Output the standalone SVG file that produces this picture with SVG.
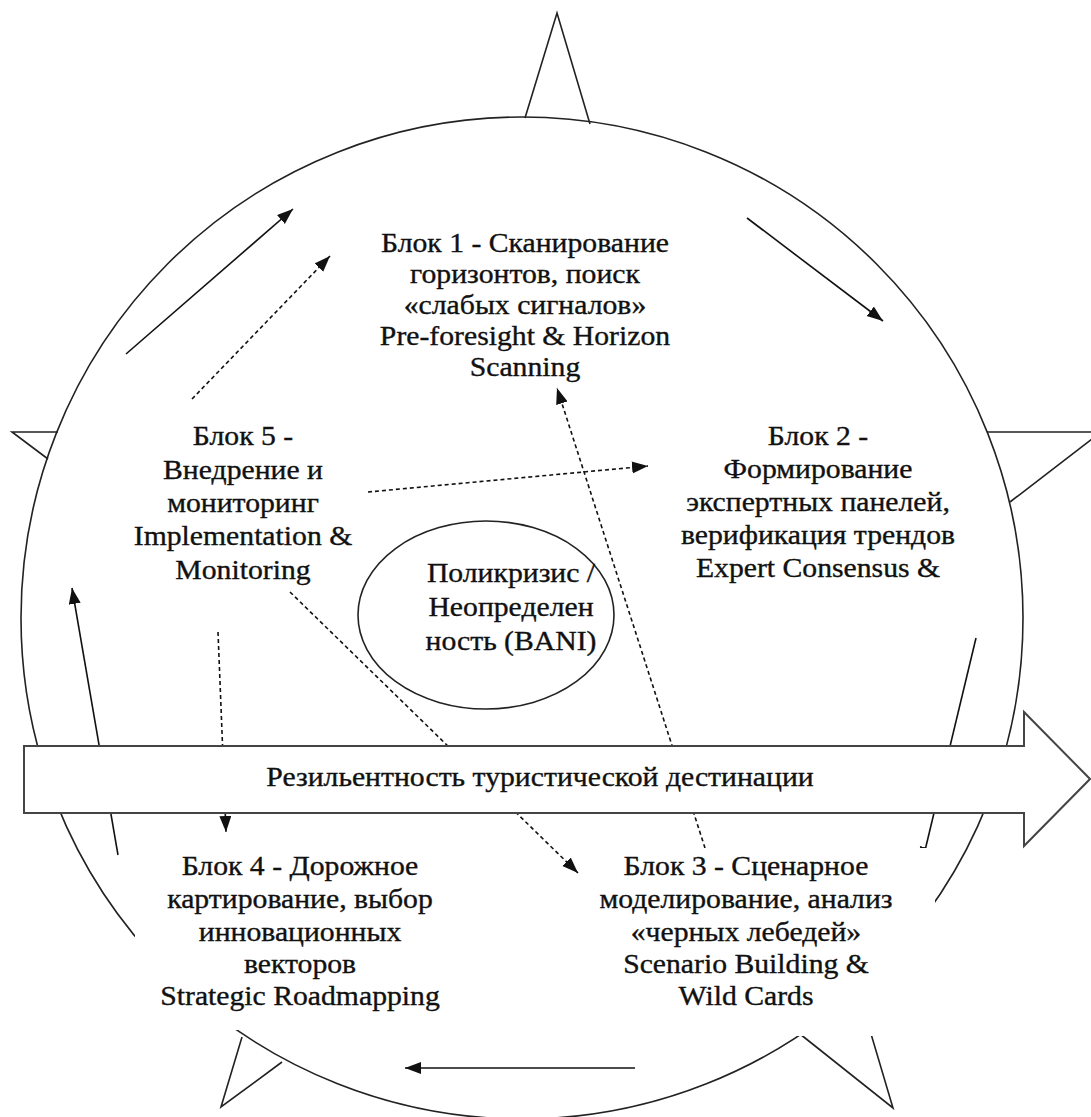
<svg xmlns="http://www.w3.org/2000/svg" width="1091" height="1117" viewBox="0 0 1091 1117">
<style>
.outline{fill:none;stroke:#222;stroke-width:1.6}
.spike{fill:none;stroke:#222;stroke-width:1.6;stroke-linejoin:miter}
.solid{fill:none;stroke:#111;stroke-width:1.6;marker-end:url(#ah)}
.dash{fill:none;stroke:#111;stroke-width:1.6;stroke-dasharray:4 3;marker-end:url(#ah)}
.box{fill:#fff;stroke:none}
text{font-family:'Liberation Serif','Times New Roman',serif;font-size:27px;fill:#111;stroke:#111;stroke-width:0.35;text-anchor:middle}
.big{fill:#fff;stroke:#444;stroke-width:2}
</style>
<defs>
<marker id="ah" markerUnits="userSpaceOnUse" markerWidth="17" markerHeight="13" refX="16" refY="6" orient="auto">
<path d="M0,0 L16,6 L0,12 Z" fill="#111"/>
</marker>
</defs>
<rect width="1091" height="1117" fill="#fff"/>
<g id="frame">
<circle class="outline" cx="522" cy="618" r="501"/>
<polyline class="spike" points="525,118 557,13 590,124"/>
<polyline class="spike" points="58,432 12,432 48,459"/>
<polyline class="spike" points="987,432 1101,432 1010,502"/>
<polyline class="spike" points="242,1037 221,1107 282,1062"/>
<polyline class="spike" points="858,990 893,1108 800,1034"/>
</g>
<g id="connectors">
<path class="solid" d="M126,354 L293,209"/>
<path class="solid" d="M747,218 L883,321"/>
<path class="solid" d="M976,638 L922,863"/>
<path class="solid" d="M635,1068 L405,1068"/>
<path class="solid" d="M118,855 L72,588"/>
<path class="dash" d="M192,399 L330,256"/>
<path class="dash" d="M368,492 L648,466"/>
<path class="dash" d="M705,848 L557,388"/>
<path class="dash" d="M290,592 L578,873"/>
<path class="dash" d="M218,632 L226,832"/>
</g>
<g id="center">
<ellipse cx="486" cy="615" rx="128" ry="94" fill="#fff" stroke="#222" stroke-width="1.6"/>
<g transform="translate(511 0) scale(1.1 1)">
<text x="0" y="582">Поликризис /</text>
<text x="0" y="616">Неопределен</text>
<text x="0" y="650">ность (BANI)</text>
</g>
</g>
<g id="block1">
<g transform="translate(525 0) scale(1.1 1)">
<text x="0" y="252">Блок 1 - Сканирование</text>
<text x="0" y="283">горизонтов, поиск</text>
<text x="0" y="314">«слабых сигналов»</text>
<text x="0" y="345">Pre-foresight &amp; Horizon</text>
<text x="0" y="376">Scanning</text>
</g>
</g>
<g id="block2">
<g transform="translate(818 0) scale(1.1 1)">
<text x="0" y="445">Блок 2 - </text>
<text x="0" y="478">Формирование</text>
<text x="0" y="511">экспертных панелей,</text>
<text x="0" y="544">верификация трендов</text>
<text x="0" y="577">Expert Consensus &amp;</text>
</g>
</g>
<g id="block5">
<g transform="translate(243 0) scale(1.1 1)">
<text x="0" y="445">Блок 5 - </text>
<text x="0" y="479">Внедрение и</text>
<text x="0" y="512">мониторинг</text>
<text x="0" y="545">Implementation &amp;</text>
<text x="0" y="579">Monitoring</text>
</g>
</g>
<g id="block4">
<rect class="box" x="135" y="843" width="330" height="187"/>
<g transform="translate(300 0) scale(1.1 1)">
<text x="0" y="875">Блок 4 - Дорожное</text>
<text x="0" y="908">картирование, выбор</text>
<text x="0" y="941">инновационных</text>
<text x="0" y="973">векторов</text>
<text x="0" y="1005">Strategic Roadmapping</text>
</g>
</g>
<g id="block3">
<rect class="box" x="582" y="848" width="353" height="188"/>
<g transform="translate(746 0) scale(1.1 1)">
<text x="0" y="875">Блок 3 - Сценарное</text>
<text x="0" y="908">моделирование, анализ</text>
<text x="0" y="941">«черных лебедей»</text>
<text x="0" y="973">Scenario Building &amp;</text>
<text x="0" y="1005">Wild Cards</text>
</g>
</g>
<g id="resilience">
<polygon class="big" points="24,746 1024,746 1024,712 1090,779 1024,846 1024,813 24,813"/>
<g transform="translate(540 0) scale(1.1 1)">
<text x="0" y="786">Резильентность туристической дестинации</text>
</g>
</g>
</svg>
